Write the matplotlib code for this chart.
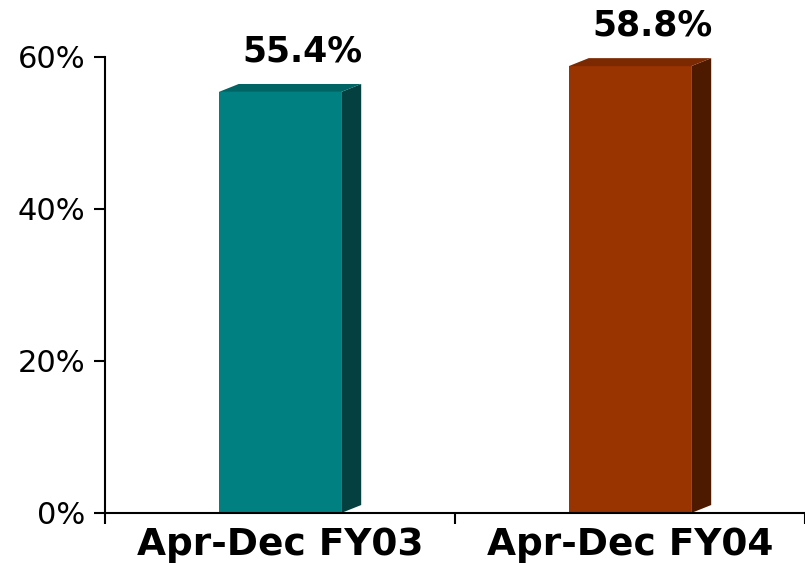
import matplotlib.pyplot as plt
from matplotlib.patches import Polygon

categories = ["Apr-Dec FY03", "Apr-Dec FY04"]
values = [55.4, 58.8]
labels = ["55.4%", "58.8%"]
yticks = [0, 20, 40, 60]
ytick_labels = ["0%", "20%", "40%", "60%"]

# front, top and side colour of each bar
front = ["#008080", "#993300"]
top = ["#006464", "#7a2900"]
side = ["#03403f", "#4d1a00"]

width = 0.35
dx, dy = 0.057, 1.05  # depth of the 3d effect in data units

fig = plt.figure(figsize=(8.05, 5.63), dpi=100)
ax = fig.add_axes([105/805, 1 - 513/563, 700/805, 456/563])

pos = list(range(len(categories)))
bars = ax.bar(pos, values, width=width, color=front, zorder=2)

for i, b in enumerate(bars):
    x0 = b.get_x()
    x1 = x0 + b.get_width()
    v = b.get_height()
    ax.add_patch(Polygon([(x1, 0), (x1 + dx, dy), (x1 + dx, v + dy), (x1, v)],
                         closed=True, facecolor=side[i], edgecolor="none",
                         zorder=2, clip_on=False))
    ax.add_patch(Polygon([(x0, v), (x1, v), (x1 + dx, v + dy), (x0 + dx, v + dy)],
                         closed=True, facecolor=top[i], edgecolor="none",
                         zorder=2, clip_on=False))
    ax.text(pos[i] + 0.065, v + 4.0, labels[i], ha="center", va="baseline",
            fontsize=25, fontweight="bold", family="DejaVu Sans", clip_on=False)

ax.set_xlim(-0.5, 1.5)
ax.set_ylim(0, 60)

ax.set_yticks(yticks)
ax.set_yticklabels(ytick_labels, fontsize=22, family="DejaVu Sans")
ax.tick_params(axis="y", direction="out", length=8, width=1.5, pad=6)

# category separators as ticks, names as minor-tick labels
ax.set_xticks([-0.5, 0.5, 1.5])
ax.set_xticklabels([])
ax.tick_params(axis="x", which="major", direction="out", length=8, width=1.5)
ax.set_xticks(pos, minor=True)
ax.set_xticklabels(categories, minor=True, fontsize=27, fontweight="bold",
                   family="DejaVu Sans")
ax.tick_params(axis="x", which="minor", length=0, pad=10)

for s in ["top", "right"]:
    ax.spines[s].set_visible(False)
for s in ["left", "bottom"]:
    ax.spines[s].set_linewidth(1.5)

fig.savefig("out.png", dpi=100)
